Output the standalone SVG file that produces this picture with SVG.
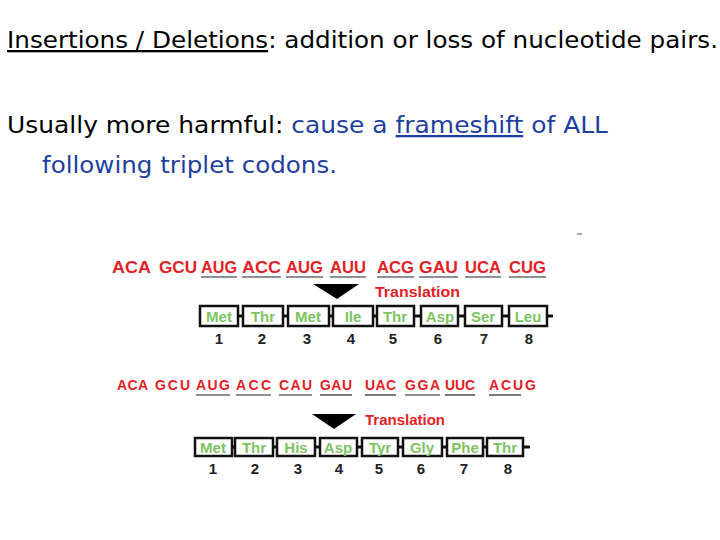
<svg xmlns="http://www.w3.org/2000/svg" width="720" height="540" viewBox="0 0 720 540">
<style>
.t{font-family:"DejaVu Sans","Liberation Sans",sans-serif;font-size:23px}
.b{fill:#1f3f9f}
.c{font-family:"Liberation Sans",Arial,sans-serif;font-weight:bold;font-size:17px;fill:#e41e26}
.c2{font-family:"Liberation Sans",Arial,sans-serif;font-weight:bold;font-size:14px;fill:#e41e26}
.tr{font-family:"Liberation Sans",Arial,sans-serif;font-weight:bold;font-size:15px;fill:#e41e26}
.aa{font-family:"Liberation Sans",Arial,sans-serif;font-weight:bold;font-size:15px;fill:#7cc462;text-anchor:middle}
.n{font-family:"Liberation Sans",Arial,sans-serif;font-weight:bold;font-size:15px;fill:#222;text-anchor:middle}
.bx{fill:#fff;stroke:#111;stroke-width:2.5}
.ul{stroke:#222;stroke-width:1.2}
.lk{stroke:#111;stroke-width:3}
</style>
<rect width="720" height="540" fill="#fff"/>
<g id="title">
<text class="t" x="7" y="48" textLength="711" lengthAdjust="spacingAndGlyphs"><tspan text-decoration="underline">Insertions / Deletions</tspan>: addition or loss of nucleotide pairs.</text>
<text class="t" x="7" y="133" textLength="601" lengthAdjust="spacingAndGlyphs">Usually more harmful:  <tspan class="b">cause a </tspan><tspan class="b" text-decoration="underline">frameshift</tspan><tspan class="b"> of ALL</tspan></text>
<text class="t b" x="42" y="173" textLength="295" lengthAdjust="spacingAndGlyphs">following triplet codons.</text>
<line x1="577" y1="234" x2="582" y2="234" stroke="#555" stroke-width="1"/>
</g>
<g id="seq1">
<text class="c" x="112" y="273" textLength="39" lengthAdjust="spacingAndGlyphs">ACA</text>
<text class="c" x="159" y="273" textLength="38" lengthAdjust="spacingAndGlyphs">GCU</text>
<text class="c" x="201" y="273" textLength="36" lengthAdjust="spacingAndGlyphs">AUG</text>
<text class="c" x="242" y="273" textLength="39" lengthAdjust="spacingAndGlyphs">ACC</text>
<text class="c" x="286" y="273" textLength="37" lengthAdjust="spacingAndGlyphs">AUG</text>
<text class="c" x="330" y="273" textLength="36" lengthAdjust="spacingAndGlyphs">AUU</text>
<text class="c" x="377" y="273" textLength="37" lengthAdjust="spacingAndGlyphs">ACG</text>
<text class="c" x="419" y="273" textLength="39" lengthAdjust="spacingAndGlyphs">GAU</text>
<text class="c" x="465" y="273" textLength="36" lengthAdjust="spacingAndGlyphs">UCA</text>
<text class="c" x="509" y="273" textLength="37" lengthAdjust="spacingAndGlyphs">CUG</text>
<g class="ul"><line x1="201" y1="277" x2="237" y2="277"/><line x1="242" y1="277" x2="281" y2="277"/><line x1="286" y1="277" x2="323" y2="277"/><line x1="330" y1="277" x2="366" y2="277"/><line x1="377" y1="277" x2="414" y2="277"/><line x1="419" y1="277" x2="458" y2="277"/><line x1="465" y1="277" x2="501" y2="277"/><line x1="509" y1="277" x2="546" y2="277"/></g>
<polygon points="313,284 359,284 337,299" fill="#000"/>
<text class="tr" x="375" y="297" textLength="85" lengthAdjust="spacingAndGlyphs">Translation</text>
</g>
<g id="chain1">
<g class="lk"><line x1="238" y1="316" x2="243" y2="316"/><line x1="283" y1="316" x2="288" y2="316"/><line x1="329" y1="316" x2="333" y2="316"/><line x1="373" y1="316" x2="377" y2="316"/><line x1="414" y1="316" x2="421" y2="316"/><line x1="458" y1="316" x2="465" y2="316"/><line x1="502" y1="316" x2="509" y2="316"/><line x1="547" y1="316" x2="553" y2="316"/></g>
<rect class="bx" x="200" y="306" width="38" height="20"/><rect class="bx" x="243" y="306" width="40" height="20"/><rect class="bx" x="288" y="306" width="41" height="20"/><rect class="bx" x="333" y="306" width="40" height="20"/><rect class="bx" x="377" y="306" width="37" height="20"/><rect class="bx" x="421" y="306" width="37" height="20"/><rect class="bx" x="465" y="306" width="37" height="20"/><rect class="bx" x="509" y="306" width="38" height="20"/>
<text class="aa" y="322"><tspan x="219">Met</tspan><tspan x="263">Thr</tspan><tspan x="308">Met</tspan><tspan x="353">Ile</tspan><tspan x="395">Thr</tspan><tspan x="440">Asp</tspan><tspan x="483">Ser</tspan><tspan x="528">Leu</tspan></text>
<text class="n" y="344"><tspan x="219">1</tspan><tspan x="262">2</tspan><tspan x="307">3</tspan><tspan x="351">4</tspan><tspan x="393">5</tspan><tspan x="438">6</tspan><tspan x="484">7</tspan><tspan x="529">8</tspan></text>
</g>
<g id="seq2">
<text class="c2" x="117" y="390" textLength="31" lengthAdjust="spacing">ACA</text>
<text class="c2" x="155" y="390" textLength="35" lengthAdjust="spacing">GCU</text>
<text class="c2" x="196" y="390" textLength="34" lengthAdjust="spacing">AUG</text>
<text class="c2" x="236" y="390" textLength="35" lengthAdjust="spacing">ACC</text>
<text class="c2" x="279" y="390" textLength="33" lengthAdjust="spacing">CAU</text>
<text class="c2" x="320" y="390" textLength="32" lengthAdjust="spacing">GAU</text>
<text class="c2" x="365" y="390" textLength="31" lengthAdjust="spacing">UAC</text>
<text class="c2" x="405" y="390" textLength="35" lengthAdjust="spacing">GGA</text>
<text class="c2" x="445" y="390" textLength="30" lengthAdjust="spacing">UUC</text>
<text class="c2" x="489" y="390" textLength="47" lengthAdjust="spacing">ACUG</text>
<g class="ul"><line x1="196" y1="395" x2="230" y2="395"/><line x1="236" y1="395" x2="271" y2="395"/><line x1="279" y1="395" x2="312" y2="395"/><line x1="320" y1="395" x2="352" y2="395"/><line x1="365" y1="395" x2="396" y2="395"/><line x1="405" y1="395" x2="440" y2="395"/><line x1="445" y1="395" x2="475" y2="395"/><line x1="489" y1="395" x2="521" y2="395"/></g>
<polygon points="312,414 356,414 334,429" fill="#000"/>
<text class="tr" x="365" y="425" textLength="80" lengthAdjust="spacingAndGlyphs">Translation</text>
</g>
<g id="chain2">
<g class="lk"><line x1="232" y1="447" x2="235" y2="447"/><line x1="273" y1="447" x2="277" y2="447"/><line x1="315" y1="447" x2="320" y2="447"/><line x1="357" y1="447" x2="362" y2="447"/><line x1="398" y1="447" x2="403" y2="447"/><line x1="442" y1="447" x2="447" y2="447"/><line x1="483" y1="447" x2="487" y2="447"/><line x1="523" y1="447" x2="530" y2="447"/></g>
<rect class="bx" x="195" y="438" width="37" height="18"/><rect class="bx" x="235" y="438" width="38" height="18"/><rect class="bx" x="277" y="438" width="38" height="18"/><rect class="bx" x="320" y="438" width="37" height="18"/><rect class="bx" x="362" y="438" width="36" height="18"/><rect class="bx" x="403" y="438" width="39" height="18"/><rect class="bx" x="447" y="438" width="36" height="18"/><rect class="bx" x="487" y="438" width="36" height="18"/>
<text class="aa" y="453"><tspan x="213">Met</tspan><tspan x="254">Thr</tspan><tspan x="296">His</tspan><tspan x="338">Asp</tspan><tspan x="380">Tyr</tspan><tspan x="422">Gly</tspan><tspan x="465">Phe</tspan><tspan x="505">Thr</tspan></text>
<text class="n" y="474"><tspan x="213">1</tspan><tspan x="255">2</tspan><tspan x="298">3</tspan><tspan x="339">4</tspan><tspan x="379">5</tspan><tspan x="421">6</tspan><tspan x="464">7</tspan><tspan x="508">8</tspan></text>
</g>
</svg>
